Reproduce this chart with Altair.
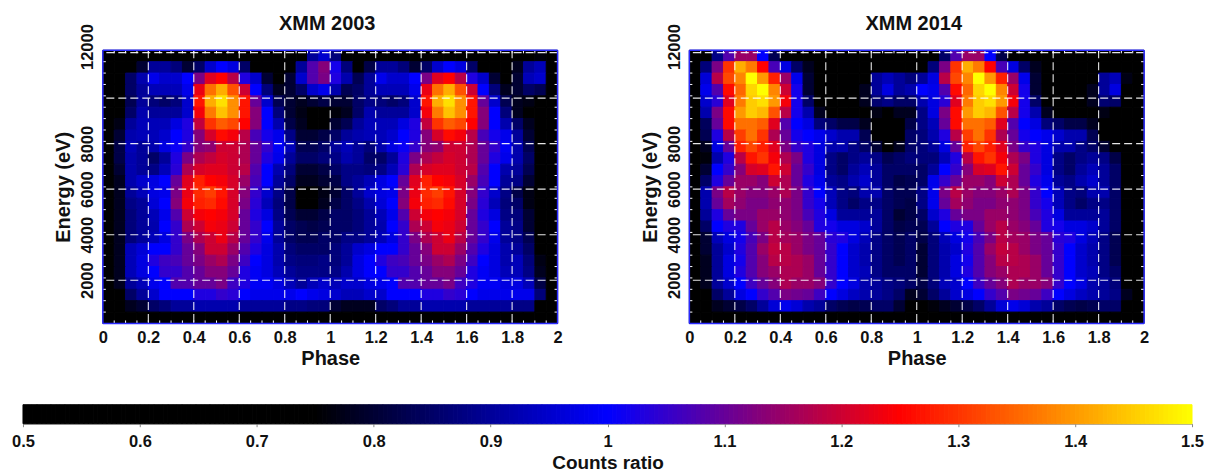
import altair as alt
import pandas as pd

# Counts ratio x 100; rows run from the top energy bin down, columns from phase 0 to 2
ratio_2003 = [
 [70,70,70,70,70,70,70,70,70,70,70,70,70,70,70,70,70,70,90,95, 87,70,70,70,70,70,70,70,70,70,70,70,70,70,70,70,70,70,76,70],
 [70,70,70,80,90,90,87,80,85,95,100,97,85,70,70,70,75,90,108,113, 102,87,70,82,90,90,87,80,85,95,100,97,85,70,70,70,78,90,93,70],
 [70,70,85,92,98,95,95,100,112,122,125,118,103,95,80,72,80,95,108,112, 103,92,83,90,98,95,95,100,112,122,125,118,103,95,80,72,80,93,95,70],
 [70,70,85,90,93,93,93,98,123,136,142,133,120,100,87,78,80,85,95,98, 92,83,85,90,93,93,93,98,123,136,142,133,120,100,87,78,80,85,83,70],
 [70,70,83,90,87,85,87,95,127,142,147,139,127,110,95,83,80,78,80,82, 80,80,85,88,87,85,87,95,127,142,147,139,127,110,95,83,78,77,70,70],
 [70,70,85,92,90,90,90,95,124,137,144,139,127,113,100,87,80,77,72,75, 76,78,85,92,90,90,90,95,124,137,144,139,127,113,100,87,78,74,70,70],
 [70,77,90,93,93,93,97,103,119,130,134,132,125,113,100,92,82,78,72,75, 80,83,90,93,93,93,97,103,119,130,134,132,125,113,100,92,85,78,70,70],
 [70,80,92,93,93,95,100,103,113,121,126,124,118,107,102,98,88,80,80,82, 85,90,92,93,93,95,100,103,113,121,126,124,118,107,102,98,90,80,70,70],
 [70,82,93,90,92,97,101,105,113,114,120,120,117,110,105,99,93,83,83,85, 90,93,90,87,92,97,101,105,113,114,120,120,117,110,105,99,92,83,70,70],
 [70,82,92,90,85,90,103,112,117,119,121,120,117,110,103,98,90,85,85,87, 88,92,90,85,85,90,103,112,117,119,121,120,117,110,103,98,92,85,72,70],
 [70,80,92,90,88,93,104,117,121,122,122,120,118,108,100,92,87,80,80,82, 85,88,88,87,88,93,104,117,121,122,122,120,118,108,100,92,90,83,70,70],
 [70,78,92,95,97,100,110,122,128,125,124,121,115,107,100,90,85,78,78,80, 82,88,90,93,97,100,110,122,128,125,124,121,115,107,100,90,88,80,70,70],
 [70,78,90,93,97,98,112,123,129,131,127,121,113,105,95,88,82,75,75,77, 80,85,90,95,97,98,112,123,129,131,127,121,113,105,95,88,82,77,70,70],
 [70,78,88,90,96,100,113,124,128,129,126,121,112,104,93,87,82,75,75,78, 82,85,88,92,96,100,113,124,128,129,126,121,112,104,93,87,85,77,70,70],
 [70,78,87,90,93,98,108,120,124,125,124,121,110,103,97,88,83,80,80,82, 85,85,87,90,93,98,108,120,124,125,124,121,110,103,97,88,87,80,70,70],
 [70,78,87,90,92,100,105,117,120,124,123,120,110,105,100,90,85,83,82,83, 85,85,87,90,92,100,105,117,120,124,123,120,110,105,100,90,88,80,70,70],
 [70,78,87,90,93,97,105,112,117,120,123,118,110,105,98,90,85,83,83,85, 85,88,88,90,93,97,105,112,117,120,123,118,110,105,98,90,88,83,70,70],
 [70,78,93,96,100,100,105,110,113,120,120,115,108,103,97,92,87,85,85,85, 87,90,95,97,100,100,105,110,113,120,120,115,108,103,97,92,90,85,72,70],
 [70,78,93,97,103,106,107,110,112,115,117,112,106,100,97,92,88,87,87,88, 87,90,97,100,103,106,107,110,112,115,117,112,106,100,97,92,93,87,77,70],
 [70,78,93,97,100,105,105,108,110,113,113,110,103,99,97,93,90,88,88,88, 88,92,97,100,100,105,105,108,110,113,113,110,103,99,97,93,93,88,78,70],
 [70,78,90,93,98,100,108,108,110,110,112,106,103,99,99,97,93,90,93,95, 93,95,95,97,98,100,108,108,110,110,112,106,103,99,99,97,97,93,82,70],
 [70,75,85,90,95,100,100,100,103,103,105,104,100,98,98,98,98,100,98,97, 95,93,93,95,95,100,100,100,103,103,105,104,100,98,98,98,98,98,87,70],
 [70,70,78,80,85,87,90,90,92,92,92,92,90,90,90,90,88,88,87,87, 80,78,78,78,85,87,90,90,92,92,92,92,90,90,90,90,88,88,75,70],
 [70]*40,
]

ratio_2014 = [
 [70,70,88,108,115,115,100,83,70,70,70,70,70,70,70,70,70,70,70,70, 70,70,85,108,115,115,100,82,70,70,70,70,70,70,70,70,70,70,70,70],
 [70,87,112,130,142,137,125,107,97,85,78,70,70,70,70,70,70,70,74,70, 70,87,112,130,142,137,125,107,97,85,78,70,70,70,70,70,70,70,70,70],
 [70,96,118,132,138,150,140,128,115,98,80,70,70,70,70,75,90,93,90,87, 90,97,118,132,138,150,140,128,115,98,80,70,70,70,70,75,90,93,77,70],
 [70,98,108,126,135,146,150,138,120,102,80,70,70,70,70,78,90,97,90,92, 100,98,108,126,135,146,150,138,120,102,80,70,70,70,70,78,90,97,70,70],
 [70,95,104,122,137,145,147,140,124,102,85,72,70,70,70,78,86,88,85,85, 92,97,104,122,137,145,147,140,124,102,85,72,70,70,70,78,86,85,70,70],
 [70,92,112,126,140,145,143,133,118,102,92,78,75,70,70,75,77,75,78,78, 88,97,112,126,140,145,143,133,118,102,92,78,75,70,70,75,77,72,70,70],
 [70,84,110,126,136,136,134,122,108,100,97,87,85,82,82,78,75,72,72,82, 88,93,110,126,136,136,134,122,108,100,97,87,85,82,82,78,75,70,70,70],
 [70,83,103,118,131,136,130,117,110,102,100,98,95,92,92,83,75,70,70,85, 87,92,103,118,131,136,130,117,110,102,100,98,95,92,92,83,75,70,70,70],
 [70,78,97,110,128,132,128,122,112,105,103,97,92,92,88,85,80,75,78,85, 87,90,97,110,128,132,128,122,112,105,103,97,92,92,88,85,80,75,70,70],
 [70,76,92,103,118,127,130,124,117,112,103,97,88,85,88,90,88,83,85,87, 87,87,93,103,118,127,130,124,117,112,103,97,88,85,88,90,88,82,70,70],
 [70,80,100,105,113,121,122,127,120,110,105,97,88,85,90,93,90,85,85,85, 85,90,100,105,113,121,122,127,120,110,105,97,88,85,90,93,90,85,70,70],
 [70,85,103,110,115,115,113,120,117,110,103,98,90,88,92,95,90,85,82,83, 85,98,105,110,115,115,113,120,117,110,103,98,90,88,92,95,90,85,70,70],
 [70,92,112,118,115,113,113,115,117,112,105,100,93,88,87,92,92,85,83,83, 88,98,112,118,115,113,113,115,117,112,105,100,93,88,87,92,92,85,70,70],
 [70,92,110,116,114,112,112,114,114,112,105,102,93,88,85,88,88,85,83,82, 88,98,110,116,114,112,112,114,114,112,105,102,93,88,85,88,88,85,70,70],
 [70,90,103,110,112,112,115,115,114,112,107,103,97,90,90,90,90,85,80,82, 85,95,103,110,112,112,115,115,114,112,107,103,97,90,90,90,90,85,70,70],
 [70,85,100,103,103,110,115,118,115,113,110,103,102,97,97,95,90,85,82,83, 83,90,100,103,103,110,115,118,115,113,110,103,102,97,97,95,90,85,70,70],
 [70,80,93,97,102,107,112,118,116,115,112,110,104,103,97,93,88,85,83,85, 82,87,93,97,102,107,112,118,116,115,112,110,104,103,97,93,88,83,70,70],
 [70,80,90,95,103,108,115,119,118,115,112,110,105,100,95,92,88,85,83,85, 80,87,92,95,103,108,115,119,118,115,112,110,105,100,95,92,88,83,70,70],
 [70,78,90,97,102,108,113,118,118,117,115,110,105,100,95,92,88,85,83,85, 80,87,92,97,102,108,113,118,118,117,115,110,105,100,95,92,88,83,70,70],
 [70,78,90,97,103,108,113,115,117,117,115,110,105,100,95,93,88,85,85,85, 80,87,92,97,103,108,113,115,117,117,115,110,105,100,95,93,88,85,70,70],
 [70,78,90,95,100,106,110,113,117,115,115,113,105,100,97,92,90,88,87,85, 82,87,93,95,100,106,110,113,117,115,115,113,105,100,97,92,90,87,70,70],
 [70,74,85,90,97,100,105,108,112,111,110,106,100,97,94,92,90,88,85,78, 80,85,90,95,97,100,105,108,112,111,110,106,100,97,94,92,90,88,78,70],
 [70,70,78,80,82,85,90,96,98,96,92,90,85,83,82,83,85,85,80,70, 72,76,78,80,82,85,90,96,98,96,92,90,85,83,82,83,85,85,70,70],
 [70]*40,
]

phase_major = [0, 0.2, 0.4, 0.6, 0.8, 1, 1.2, 1.4, 1.6, 1.8, 2]
phase_grid = [0.2, 0.4, 0.6, 0.8, 1, 1.2, 1.4, 1.6, 1.8]
energy_major = [2000, 4000, 6000, 8000, 10000, 12000]
energy_labels = [2000, 4000, 6000, 8000, 12000]
titles = ["XMM 2003", "XMM 2014"]
bar_ticks = [0.5, 0.6, 0.7, 0.8, 0.9, 1.0, 1.1, 1.2, 1.3, 1.4, 1.5]

PW, PH = 455.5, 273.6
FONT = "Liberation Sans"
INK = "#111111"
color_scale = alt.Scale(domain=[0.5, 0.75, 1.0, 1.25, 1.5],
                        range=["#000000", "#000000", "#0000ff", "#ff0000", "#ffff00"],
                        interpolate="rgb", clamp=True)
x_scale = alt.Scale(domain=[0, 2], nice=False, zero=False)
y_scale = alt.Scale(domain=[100, 12100], nice=False, zero=False)

minor_x = pd.DataFrame({"p": [i * 0.05 for i in range(1, 40)]})
minor_y = pd.DataFrame({"e": [100 + i * 500 for i in range(1, 24)]})
grid_x = pd.DataFrame({"p": phase_grid})
grid_y = pd.DataFrame({"e": energy_major})
one = pd.DataFrame({"a": [0]})


def panel(matrix, title):
    cells = pd.DataFrame([
        {"p0": c * 0.05, "p1": (c + 1) * 0.05,
         "e1": 12100 - r * 500, "e0": 12100 - (r + 1) * 500, "v": v / 100}
        for r, row in enumerate(matrix) for c, v in enumerate(row)])
    heat = alt.Chart(cells).mark_rect(strokeWidth=1).encode(
        x=alt.X("p0:Q", scale=x_scale, title="Phase", axis=alt.Axis(
            values=phase_major, grid=False, domain=False, ticks=False, labelPadding=6,
            labelExpr="datum.value", labelFontSize=16.5, labelFontWeight="bold", labelFont=FONT,
            labelColor=INK, titleFontSize=20, titleFontWeight="bold", titleFont=FONT,
            titleColor=INK, titlePadding=3, labelFlush=False, labelOverlap=False)),
        x2="p1:Q",
        y=alt.Y("e0:Q", scale=y_scale, title="Energy (eV)", axis=alt.Axis(
            values=energy_labels, grid=False, domain=False, ticks=False, labelPadding=7,
            labelExpr="datum.value", labelOverlap=False,
            labelAngle=270, labelAlign="center", labelBaseline="bottom",
            labelOffset={"condition": {"test": "datum.value === 12000", "value": -6}, "value": 0},
            labelFontSize=16.5, labelFontWeight="bold", labelFont=FONT, labelColor=INK,
            titleFontSize=20, titleFontWeight="bold", titleFont=FONT, titleColor=INK,
            titlePadding=6)),
        y2="e1:Q",
        color=alt.Color("v:Q", scale=color_scale, legend=None),
        stroke=alt.Color("v:Q", scale=color_scale, legend=None),
    )
    white = dict(color="#ffffff", strokeWidth=1)
    tb = alt.Chart(minor_x).mark_rule(**white).encode(
        x=alt.X("p:Q", scale=x_scale, axis=None), y=alt.value(PH - 3), y2=alt.value(PH))
    tt = alt.Chart(minor_x).mark_rule(**white).encode(
        x=alt.X("p:Q", scale=x_scale, axis=None), y=alt.value(0), y2=alt.value(3))
    tl = alt.Chart(minor_y).mark_rule(**white).encode(
        y=alt.Y("e:Q", scale=y_scale, axis=None), x=alt.value(0), x2=alt.value(3))
    tr = alt.Chart(minor_y).mark_rule(**white).encode(
        y=alt.Y("e:Q", scale=y_scale, axis=None), x=alt.value(PW - 3), x2=alt.value(PW))
    dash = dict(color="#ffffff", strokeWidth=1.1, strokeDash=[8, 4], opacity=0.9)
    gv = alt.Chart(grid_x).mark_rule(**dash).encode(x=alt.X("p:Q", scale=x_scale, axis=None))
    gh = alt.Chart(grid_y).mark_rule(**dash).encode(y=alt.Y("e:Q", scale=y_scale, axis=None))
    fr = dict(color="#2a2aff", strokeWidth=1.5)
    f1 = alt.Chart(one).mark_rule(**fr).encode(x=alt.value(0), x2=alt.value(PW), y=alt.value(0))
    f2 = alt.Chart(one).mark_rule(**fr).encode(x=alt.value(0), x2=alt.value(PW), y=alt.value(PH))
    f3 = alt.Chart(one).mark_rule(**fr).encode(y=alt.value(0), y2=alt.value(PH), x=alt.value(0))
    f4 = alt.Chart(one).mark_rule(**fr).encode(y=alt.value(0), y2=alt.value(PH), x=alt.value(PW))
    return alt.layer(heat, gv, gh, tb, tt, tl, tr, f1, f2, f3, f4).resolve_axis(
        x="independent", y="independent"
    ).properties(
        width=PW, height=PH,
        title=alt.TitleParams(title, fontSize=20, fontWeight="bold", font=FONT, color=INK,
                              anchor="middle", offset=-10, dx=-3))


ramp = pd.DataFrame([{"a": 0.5 + i * 0.004, "b": 0.5 + (i + 1) * 0.004, "v": 0.5 + (i + 0.5) * 0.004}
                     for i in range(250)])
bar = alt.Chart(ramp).mark_rect(strokeWidth=1).encode(
    x=alt.X("a:Q", scale=alt.Scale(domain=[0.5, 1.5], nice=False, zero=False), title="Counts ratio",
            axis=alt.Axis(values=bar_ticks, grid=False, domain=True, domainColor="#888888",
                          tickColor="#888888", tickSize=3, labelPadding=7,
                          labelExpr="datum.value", labelFontSize=16.5, labelFontWeight="bold",
                          labelFont=FONT, labelColor=INK, titleFontSize=19,
                          titleFontWeight="bold", titleFont=FONT, titleColor=INK,
                          titlePadding=3, labelOverlap=False, labelFlush=False)),
    x2="b:Q",
    color=alt.Color("v:Q", scale=color_scale, legend=None),
    stroke=alt.Color("v:Q", scale=color_scale, legend=None),
).properties(width=1171, height=19)

spacer = alt.Chart(one).mark_rule(opacity=0).encode(x=alt.value(0), y=alt.value(0)).properties(
    width=1, height=PH)

panels = alt.hconcat(panel(ratio_2003, titles[0]), panel(ratio_2014, titles[1]), spacing=77.5)
top = alt.hconcat(spacer, panels, spacing=30)
chart = alt.vconcat(top, bar, spacing=34).resolve_scale(color="shared", stroke="shared").properties(
    padding={"left": 3, "top": 5, "right": 0, "bottom": 0}
).configure_view(stroke=None)

chart.save("out.html", embed_options={"renderer": "svg", "actions": False})
